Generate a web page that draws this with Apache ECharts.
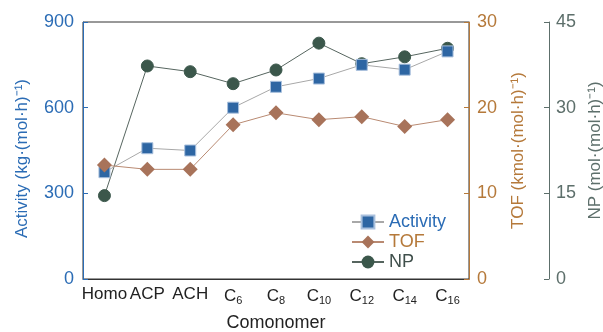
<!DOCTYPE html>
<html><head><meta charset="utf-8">
<script src="https://cdn.jsdelivr.net/npm/echarts@6/dist/echarts.min.js"></script>
<style>html,body{margin:0;padding:0;background:#fff}#c{width:603px;height:332px}</style>
</head><body><div id="c"></div>
<script>
var categories = ['Homo','ACP','ACH','C{s|6}','C{s|8}','C{s|10}','C{s|12}','C{s|14}','C{s|16}'];
var activity = [374, 458, 450, 600, 673, 702, 750, 733, 797];
var tof = [13.3, 12.8, 12.8, 18.0, 19.4, 18.6, 18.95, 17.8, 18.6];
var np = [14.6, 37.3, 36.3, 34.2, 36.6, 41.3, 37.7, 38.9, 40.4];
var activityTicks = [0, 300, 600, 900];
var tofTicks = [0, 10, 20, 30];
var npTicks = [0, 15, 30, 45];

var FONT = '"Liberation Sans", Arial, sans-serif';
var cBlue = '#2b6cb5', cBrown = '#b5793a', cNP = '#5d6f6b';
var chart = echarts.init(document.getElementById('c'));
chart.setOption({
  animation: false,
  textStyle: {fontFamily: FONT},
  grid: {left: 83, right: 134, top: 22, bottom: 53, show: true, borderColor: '#333', borderWidth: 1,
         containLabel: false, outerBoundsMode: 'none'},
  legend: {
    left: 346, top: 208, orient: 'vertical', itemGap: 2, itemWidth: 32, itemHeight: 16,
    textStyle: {fontSize: 18, fontFamily: FONT},
    data: [
      {name: 'Activity', textStyle: {color: cBlue}},
      {name: 'TOF', textStyle: {color: cBrown}},
      {name: 'NP', textStyle: {color: '#3f4f4b'}}
    ]
  },
  xAxis: {
    type: 'category', data: categories, boundaryGap: true,
    name: 'Comonomer', nameLocation: 'middle', nameGap: 35,
    nameTextStyle: {fontSize: 18, color: '#222', fontFamily: FONT},
    axisLine: {lineStyle: {color: '#333', width: 1}},
    axisTick: {inside: true, alignWithLabel: true, length: 5, lineStyle: {color: '#333'}},
    axisLabel: {fontSize: 17, color: '#222', margin: 7, interval: 0, fontFamily: FONT,
      rich: {s: {fontSize: 11, color: '#222', fontFamily: FONT, verticalAlign: 'bottom', padding: [9,0,0,0]}}}
  },
  yAxis: [
    {type: 'value', min: 0, max: 900, interval: 300, position: 'left',
     name: 'Activity (kg·(mol·h)⁻¹)', nameLocation: 'middle', nameGap: 52,
     nameTextStyle: {fontSize: 17, color: cBlue, fontFamily: FONT, padding: [0, 16, 0, 0]},
     axisLine: {show: true, lineStyle: {color: cBlue}},
     axisTick: {show: true, inside: true, length: 5, lineStyle: {color: cBlue}},
     axisLabel: {fontSize: 18, color: cBlue, margin: 9, fontFamily: FONT,
       formatter: function(v){return activityTicks.indexOf(v) >= 0 ? String(v) : '';}},
     splitLine: {show: false}},
    {type: 'value', min: 0, max: 30, interval: 10, position: 'right',
     name: 'TOF (kmol·(mol·h)⁻¹)', nameLocation: 'middle', nameGap: 41, nameRotate: 90,
     nameTextStyle: {fontSize: 17, color: cBrown, fontFamily: FONT},
     axisLine: {show: true, lineStyle: {color: cBrown}},
     axisTick: {show: true, inside: true, length: 5, lineStyle: {color: cBrown}},
     axisLabel: {fontSize: 18, color: cBrown, margin: 8, fontFamily: FONT,
       formatter: function(v){return tofTicks.indexOf(v) >= 0 ? String(v) : '';}},
     splitLine: {show: false}},
    {type: 'value', min: 0, max: 45, interval: 15, position: 'right', offset: 80,
     name: 'NP (mol·(mol·h)⁻¹)', nameLocation: 'middle', nameGap: 37, nameRotate: 90,
     nameTextStyle: {fontSize: 17, color: cNP, fontFamily: FONT},
     axisLine: {show: true, lineStyle: {color: cNP}},
     axisTick: {show: true, inside: true, length: 5, lineStyle: {color: cNP}},
     axisLabel: {fontSize: 18, color: cNP, margin: 7, fontFamily: FONT,
       formatter: function(v){return npTicks.indexOf(v) >= 0 ? String(v) : '';}},
     splitLine: {show: false}}
  ],
  series: [
    {name: 'NP', type: 'line', yAxisIndex: 2, data: np, symbol: 'circle', symbolSize: 12,
     lineStyle: {color: '#56655f', width: 1}, itemStyle: {color: '#3b574b', borderColor: '#3b574b'}, z: 3},
    {name: 'Activity', type: 'line', yAxisIndex: 0, data: activity, symbol: 'rect', symbolSize: 11,
     lineStyle: {color: '#a8a8a8', width: 1}, itemStyle: {color: '#2e66a3', borderColor: '#a9c0dd', borderWidth: 1}, z: 4},
    {name: 'TOF', type: 'line', yAxisIndex: 1, data: tof, symbol: 'diamond', symbolSize: 15,
     lineStyle: {color: '#b98a72', width: 1}, itemStyle: {color: '#a8735a'}, z: 5}
  ]
});
</script></body></html>
